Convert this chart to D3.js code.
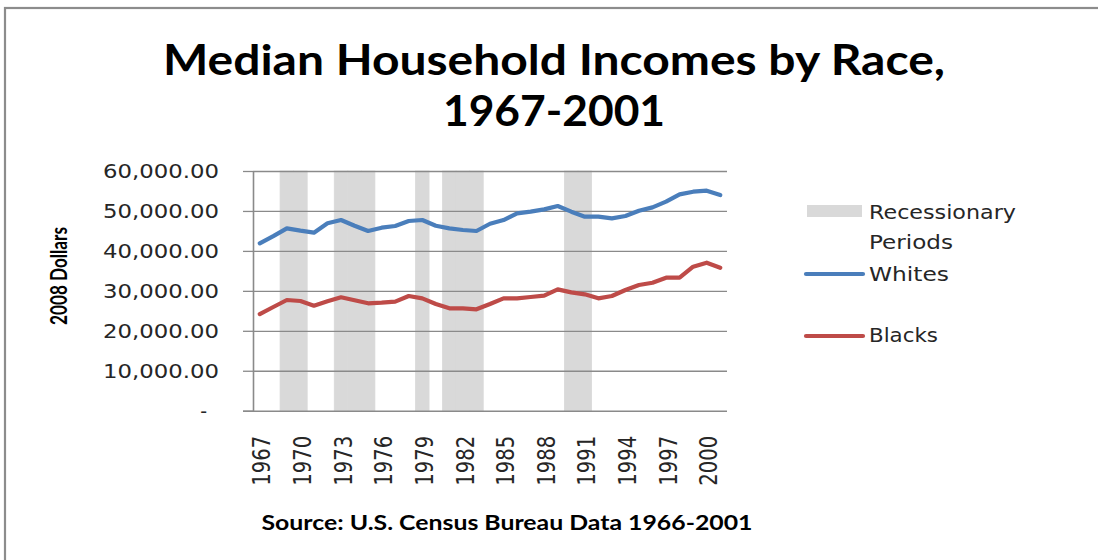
<!DOCTYPE html>
<html>
<head>
<meta charset="utf-8">
<script src="https://cdn.jsdelivr.net/npm/d3@7"></script>
<style>
  html, body { margin: 0; padding: 0; background: #fff; }
  svg { display: block; }
</style>
</head>
<body>
<svg id="chart" width="1098" height="560"></svg>
<script>
// ---- data ----
const years = [1967,1968,1969,1970,1971,1972,1973,1974,1975,1976,1977,1978,1979,1980,1981,1982,1983,1984,1985,1986,1987,1988,1989,1990,1991,1992,1993,1994,1995,1996,1997,1998,1999,2000,2001];
const whites = [41900,43700,45650,45060,44560,46900,47730,46310,44980,45810,46230,47480,47730,46310,45650,45230,44980,46800,47730,49400,49820,50400,51240,49820,48570,48570,48150,48730,50060,50900,52320,54160,54820,55070,53990];
const blacks = [24200,25960,27710,27460,26290,27380,28380,27630,26880,27040,27290,28710,28130,26710,25630,25630,25380,26700,28130,28130,28460,28800,30380,29630,29130,28130,28710,30210,31460,32040,33290,33290,36040,37040,35790];
const recessionYears = [1969,1970,1973,1974,1975,1979,1981,1982,1983,1990,1991];
const recessionValue = 60000;
const yTicks = [0,10000,20000,30000,40000,50000,60000];
const xTickLabels = [1967,1970,1973,1976,1979,1982,1985,1988,1991,1994,1997,2000];
const titleLines = ["Median Household Incomes by Race,", "1967-2001"];
const yTitle = "2008 Dollars";
const sourceText = "Source: U.S. Census Bureau Data 1966-2001";
const legendItems = [
  {label: ["Recessionary", "Periods"], kind: "rect"},
  {label: ["Whites"], kind: "line", series: "whites"},
  {label: ["Blacks"], kind: "line", series: "blacks"}
];

// ---- layout ----
const colors = {whites: "#4a7ebb", blacks: "#be4b48", recession: "#d9d9d9", grid: "#8a8a8a", frame: "#8c8c8c"};
const plot = {left: 253, right: 727, top: 171, bottom: 410.7};
const boldFont = "Lato, 'Open Sans', sans-serif";
const svg = d3.select("#chart");

// frame
svg.append("rect").attr("x", 5).attr("y", 8).attr("width", 1110).attr("height", 570)
  .attr("fill", "#fff").attr("stroke", colors.frame).attr("stroke-width", 2.2);

const x = d3.scaleBand().domain(years).range([plot.left, plot.right]).padding(0);
const y = d3.scaleLinear().domain([0, 60000]).range([plot.bottom, plot.top]);

// recession bars
svg.append("g").selectAll("rect").data(recessionYears).join("rect")
  .attr("x", d => x(d)).attr("width", x.bandwidth())
  .attr("y", y(recessionValue)).attr("height", y(0) - y(recessionValue))
  .attr("fill", colors.recession)
  .attr("stroke", colors.recession).attr("stroke-width", 0.8);

// gridlines
const grid = svg.append("g").attr("transform", `translate(${plot.left},0)`)
  .call(d3.axisLeft(y).tickValues(yTicks.filter(d => d > 0)).tickSize(-(plot.right - plot.left)).tickFormat(""));
grid.select(".domain").remove();
grid.selectAll("line").attr("stroke", colors.grid).attr("stroke-width", 1.3);

// y axis
const yAxis = svg.append("g").attr("transform", `translate(${plot.left},0)`)
  .call(d3.axisLeft(y).tickValues(yTicks).tickSize(10).tickSizeOuter(0).tickPadding(24)
    .tickFormat(d => d === 0 ? "-" : d3.format(",.2f")(d)));
yAxis.select(".domain").attr("stroke", colors.grid).attr("stroke-width", 1.6);
yAxis.selectAll(".tick line").attr("stroke", colors.grid).attr("stroke-width", 1.3);
yAxis.selectAll(".tick text")
  .attr("font-family", "DejaVu Sans").attr("font-size", 19).attr("fill", "#262626")
  .attr("dy", "0.36em")
  .each(function(d) {
    const t = d3.select(this);
    if (d === 0) { t.attr("dx", -12); }
    else { t.attr("textLength", 116).attr("lengthAdjust", "spacingAndGlyphs"); }
  });

// x axis
const xAxis = svg.append("g").attr("transform", `translate(0,${plot.bottom})`)
  .call(d3.axisBottom(x).tickValues(xTickLabels).tickSize(0).tickSizeOuter(0).tickPadding(0));
xAxis.select(".domain").attr("stroke", colors.grid).attr("stroke-width", 1.6)
  .attr("d", `M${plot.left - 10},0.5H${plot.right}`);
xAxis.selectAll(".tick text")
  .attr("font-family", "DejaVu Sans").attr("font-size", 24).attr("fill", "#262626")
  .attr("transform", "translate(2,25) rotate(-90)")
  .attr("text-anchor", "end").attr("x", 0).attr("y", 0).attr("dy", "0.36em")
  .attr("textLength", 50).attr("lengthAdjust", "spacingAndGlyphs");

// lines
const line = d3.line().x((d, i) => x(years[i]) + x.bandwidth() / 2).y(d => y(d));
[["whites", whites], ["blacks", blacks]].forEach(([k, vals]) => {
  svg.append("path").datum(vals).attr("d", line)
    .attr("fill", "none").attr("stroke", colors[k]).attr("stroke-width", 4.2)
    .attr("stroke-linejoin", "round").attr("stroke-linecap", "round");
});

// title
const titleSizes = [{x: 554, y: 75, len: 782}, {x: 554, y: 126, len: 222}];
titleLines.forEach((t, i) => {
  svg.append("text").text(t).attr("x", titleSizes[i].x).attr("y", titleSizes[i].y)
    .attr("text-anchor", "middle").attr("font-family", boldFont).attr("font-weight", "bold")
    .attr("font-size", 42).attr("fill", "#000")
    .attr("textLength", titleSizes[i].len).attr("lengthAdjust", "spacingAndGlyphs");
});

// y title
svg.append("text").text(yTitle)
  .attr("transform", "translate(67,276) rotate(-90)")
  .attr("text-anchor", "middle").attr("font-family", boldFont).attr("font-weight", "bold")
  .attr("font-size", 22).attr("fill", "#000")
  .attr("textLength", 98).attr("lengthAdjust", "spacingAndGlyphs");

// source
svg.append("text").text(sourceText).attr("x", 507).attr("y", 530)
  .attr("text-anchor", "middle").attr("font-family", boldFont).attr("font-weight", "bold")
  .attr("font-size", 21).attr("fill", "#000")
  .attr("textLength", 491).attr("lengthAdjust", "spacingAndGlyphs");

// legend
const legendPos = [
  {sym: 211, text: [218.5, 249], len: [147, 84]},
  {sym: 274, text: [281], len: [80]},
  {sym: 336, text: [342], len: [69]}
];
const lg = svg.append("g");
legendItems.forEach((it, i) => {
  const p = legendPos[i];
  if (it.kind === "rect") {
    lg.append("rect").attr("x", 807).attr("y", p.sym - 6).attr("width", 55).attr("height", 12).attr("fill", colors.recession);
  } else {
    lg.append("line").attr("x1", 806).attr("x2", 863).attr("y1", p.sym).attr("y2", p.sym)
      .attr("stroke", colors[it.series]).attr("stroke-width", 4.2).attr("stroke-linecap", "round");
  }
  it.label.forEach((l, j) => {
    lg.append("text").text(l).attr("x", 869).attr("y", p.text[j])
      .attr("font-family", "DejaVu Sans").attr("font-size", 19).attr("fill", "#262626")
      .attr("textLength", p.len[j]).attr("lengthAdjust", "spacingAndGlyphs");
  });
});
</script>
</body>
</html>
